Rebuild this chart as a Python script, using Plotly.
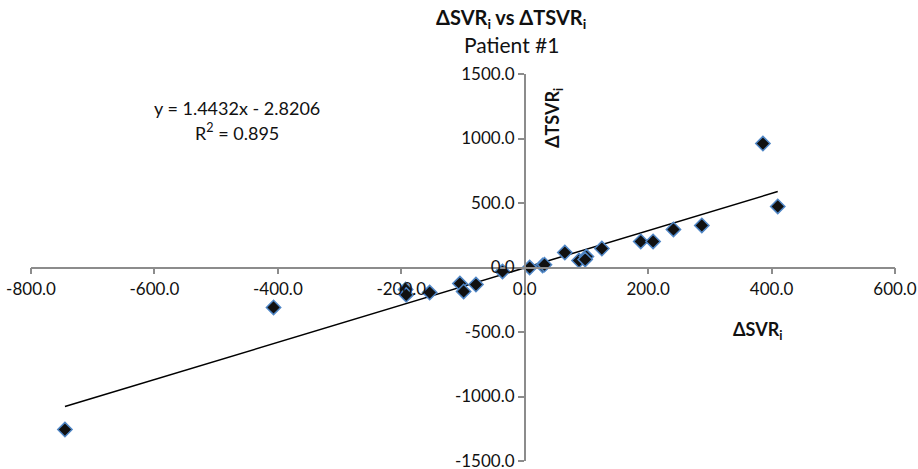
import plotly.graph_objects as go

d_svr = [-745, -407, -193, -192, -154, -105, -99, -79, -36, 8, 29, 32, 65, 88, 100, 98, 125, 188, 208, 241, 287, 386, 410]
d_tsvr = [-1256, -310, -170, -212, -194, -124, -186, -132, -31, 0, 16, 22, 116, 54, 85, 62, 147, 202, 202, 295, 326, 961, 473]

slope = 1.4432
intercept = -2.8206
r2 = 0.895

x_ticks = [-800, -600, -400, -200, 0, 200, 400, 600]
x_labels = ["-800.0", "-600.0", "-400.0", "-200.0", "0.0", "200.0", "400.0", "600.0"]
y_ticks = [-1500, -1000, -500, 0, 500, 1000, 1500]
y_labels = ["-1500.0", "-1000.0", "-500.0", "0.0", "500.0", "1000.0", "1500.0"]

font_family = "Lato, 'Open Sans', sans-serif"

xmin, xmax = min(d_svr), max(d_svr)
fig = go.Figure()
fig.add_trace(go.Scatter(
    x=[xmin, xmax], y=[slope * xmin + intercept, slope * xmax + intercept],
    mode="lines", line=dict(color="black", width=1.5), showlegend=False, hoverinfo="skip"))
fig.add_trace(go.Scatter(
    x=d_svr, y=d_tsvr, mode="markers",
    marker=dict(symbol="diamond", size=11, color="#111111",
                line=dict(color="#4f86c6", width=1.5)),
    showlegend=False))

axis_common = dict(showgrid=False, zeroline=False, showline=True,
                   linecolor="#8c8c8c", linewidth=1.5,
                   ticks="outside", ticklen=6, tickcolor="#8c8c8c", tickwidth=1.5,
                   automargin=False, ticklabeloverflow="allow",
                   tickfont=dict(size=17, color="#111111"))

fig.update_layout(
    width=918, height=469,
    margin=dict(l=31, r=23, t=74, b=8, autoexpand=False),
    paper_bgcolor="white", plot_bgcolor="white",
    font=dict(family=font_family, size=16, color="#111111"),
    xaxis=dict(range=[-800, 600], tickvals=x_ticks, ticktext=x_labels,
               anchor="free", position=0.5, **axis_common),
    yaxis=dict(range=[-1500, 1500], tickvals=y_ticks, ticktext=y_labels,
               anchor="free", position=800 / 1400, **axis_common),
    annotations=[
        dict(text="<b>ΔSVR<sub>i</sub> vs ΔTSVR<sub>i</sub></b>", x=511, y=19, font=dict(size=20)),
        dict(text="Patient #1", x=511, y=45, font=dict(size=21)),
        dict(text="y = 1.4432x - 2.8206", x=237, y=108, font=dict(size=18)),
        dict(text="R<sup>2</sup> = 0.895", x=237, y=132, font=dict(size=18)),
        dict(text="<b>ΔTSVR<sub>i</sub></b>", x=553, y=118, textangle=-90, font=dict(size=18)),
        dict(text="<b>ΔSVR<sub>i</sub></b>", x=757, y=330, font=dict(size=18)),
    ],
)

# convert pixel positions of annotations to paper coords
W, H = 918, 469
l, r, t, b = 31, 23, 74, 8
pw, ph = W - l - r, H - t - b
for a in fig.layout.annotations:
    px, py = a.x, a.y
    a.xref = "paper"
    a.yref = "paper"
    a.x = (px - l) / pw
    a.y = (H - b - py) / ph
    a.xanchor = "center"
    a.yanchor = "middle"
    a.showarrow = False

fig.write_html("out.html", config={"displayModeBar": False},
               post_script="document.body.style.margin='0';document.body.style.overflow='hidden';")
